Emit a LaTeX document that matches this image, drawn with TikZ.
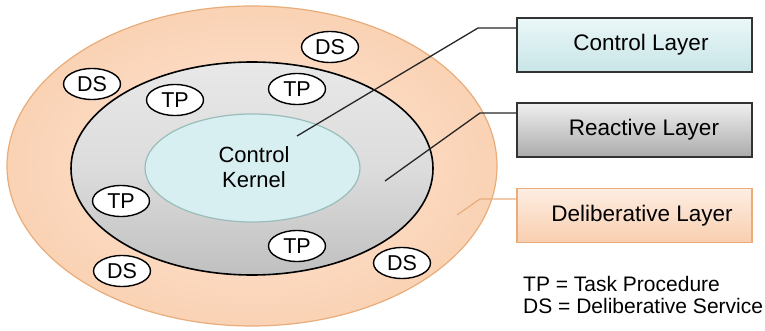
\documentclass[tikz,border=0pt]{standalone}
\usepackage{fontspec}
\setmainfont{Liberation Sans}
\usetikzlibrary{shapes.geometric}
\definecolor{peachin}{HTML}{FDE6D6}
\definecolor{peachout}{HTML}{FAD2B4}
\definecolor{peachedge}{HTML}{E8AD7B}
\definecolor{greytop}{HTML}{E8E8E8}
\definecolor{greymid}{HTML}{DCDCDC}
\definecolor{greybot}{HTML}{C0C0C0}
\definecolor{kernfill}{HTML}{D8EFF1}
\definecolor{kernedge}{HTML}{9ABDBB}
\definecolor{cyantop}{HTML}{EBF7F8}
\definecolor{cyanbot}{HTML}{C8E5E7}
\definecolor{boxedge}{HTML}{333333}
\tikzset{
  txt/.style={font=\fontsize{22}{25}\selectfont},
  boxtxt/.style={font=\fontsize{22.5}{25}\selectfont},
  small/.style={ellipse, draw=black, line width=1.4pt, fill=white, minimum width=57pt, minimum height=31pt, inner sep=0pt, font=\fontsize{21.5}{24}\selectfont},
  layerbox/.style={rectangle, minimum width=235pt, minimum height=54pt, line width=1.4pt, inner sep=0pt},
  conn/.style={line width=1.3pt, draw=black!85},
}
\begin{document}
\begin{tikzpicture}[x=1pt,y=-1pt]
\useasboundingbox (0,0) rectangle (765,331);
% outer deliberative ellipse
\node[ellipse, minimum width=490pt, minimum height=320pt, inner color=peachin, outer color=peachout, draw=peachedge, line width=1.2pt] (outer) at (252,166) {};
% reactive ellipse
\node[ellipse, minimum width=362pt, minimum height=213pt, top color=greytop, bottom color=greybot, middle color=greymid, draw=black, line width=1.6pt] (reactive) at (252,168.5) {};
% control kernel
\node[ellipse, minimum width=215pt, minimum height=108pt, fill=kernfill, draw=kernedge, line width=1.2pt] (kernel) at (252.5,168) {};
\node[txt, align=center] (kerneltext) at (254,167) {Control\\Kernel};
% small ellipses
\node[small] (ds1) at (330,47) {DS};
\node[small] (ds2) at (92,84) {DS};
\node[small] (tp1) at (175,100) {TP};
\node[small] (tp2) at (297,89) {TP};
\node[small] (tp3) at (121,201) {TP};
\node[small] (tp4) at (297,246) {TP};
\node[small] (ds3) at (122,271) {DS};
\node[small] (ds4) at (402,263) {DS};
% layer boxes
\node[layerbox, top color=cyantop, bottom color=cyanbot, draw=boxedge] (cl) at (634.5,45) {};
\node[boxtxt] (cltext) at (641,45) {Control Layer};
\node[layerbox, top color=white!94!black, bottom color=black!33, draw=boxedge] (rl) at (634.5,130) {};
\node[boxtxt] (rltext) at (644,130) {Reactive Layer};
\node[layerbox, top color=peachin!70!white, bottom color=peachout!90!peachedge, draw=peachedge] (dl) at (634.5,215.5) {};
\node[boxtxt] (dltext) at (642,215.5) {Deliberative Layer};
% connectors
\coordinate (ckpt) at (297,136);
\coordinate (cb) at (478,28);
\draw[conn] (ckpt) -- (cb) -- (cb -| cl.west);
\coordinate (rpt) at (385,181);
\coordinate (rb) at (480,113);
\draw[conn] (rpt) -- (rb) -- (rb -| rl.west);
\coordinate (dpt) at (457,215);
\coordinate (db) at (480,199);
\draw[line width=1.2pt, draw=peachedge] (dpt) -- (db) -- (db -| dl.west);
% legend
\node[font=\fontsize{21}{24}\selectfont, anchor=base west, inner sep=0pt] (legtp) at (523,291) {TP = Task Procedure};
\node[font=\fontsize{21}{24}\selectfont, anchor=base west, inner sep=0pt] (legds) at (523,313) {DS = Deliberative Service};
\end{tikzpicture}
\end{document}
